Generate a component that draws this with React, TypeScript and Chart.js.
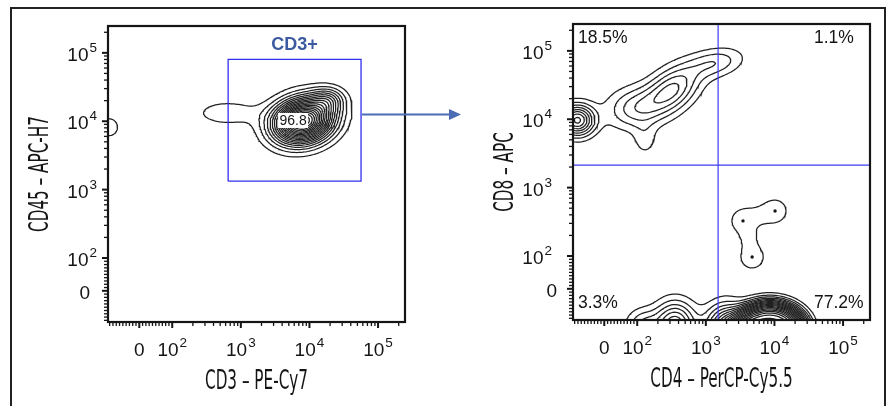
import React, { useEffect, useRef } from "react";
import { Chart, registerables } from "chart.js";

Chart.register(...registerables);

// ---------------- axis (biexponential display) ----------------
const AXIS_MIN = -95;
const AXIS_MAX = 247000;
const MAJOR_TICKS = [0, 100, 1000, 10000, 100000];
const MAJOR_EXPONENTS = ["", "2", "3", "4", "5"];
const MINOR_DECADES = [100, 1000, 10000, 100000];
const MINOR_MULTIPLIERS = [2, 3, 4, 5, 6, 7, 8, 9];
const LINEAR_MINOR = [-90, -80, -70, -60, -50, -40, -30, -20, -10, 10, 20, 30, 40, 50, 60, 70, 80, 90];

// contour levels, as fractions of the peak density
const CONTOUR_LEVELS = [0.05, 0.1, 0.15, 0.2, 0.25, 0.3, 0.35, 0.4, 0.45, 0.5, 0.55, 0.6, 0.65, 0.7, 0.75, 0.8, 0.85, 0.9, 0.95];

// ---------------- left panel: CD3 vs CD45 ----------------
const LEFT_X_TITLE = "CD3 – PE-Cy7";
const LEFT_Y_TITLE = "CD45 – APC-H7";
const LEFT_POP_X = [8070, 18700, 640, -92];
const LEFT_POP_Y = [10100, 20500, 13200, 8170];
const LEFT_POP_SX = [0.285, 0.16, 0.36, 0.12];
const LEFT_POP_SY = [0.215, 0.12, 0.14, 0.12];
const LEFT_POP_RHO = [0.15, 0, 0, 0];
const LEFT_POP_W = [1, 0.2, 0.08, 0.085];
const LEFT_POP_SHAPE = [2, 2, 2, 2];
const GATE_X = [653, 56500];
const GATE_Y = [1330, 80200];
const GATE_NAME = "CD3+";
const GATE_PERCENT = "96.8";
const GATE_PERCENT_AT = [5770, 10260];

// ---------------- right panel: CD4 vs CD8 ----------------
const RIGHT_X_TITLE = "CD4 – PerCP-Cy5.5";
const RIGHT_Y_TITLE = "CD8 – APC";
const RIGHT_POP_X = [8630, 2000, 356, 122, -82, 94, 322, 1360, 130, 3480, 10200, 4730, 4270, 5900];
const RIGHT_POP_Y = [-129, -115, -110, -110, 9660, 14600, 27000, 66500, 4980, 326, 456, 97, 184, 390];
const RIGHT_POP_SX = [0.45, 0.2, 0.2, 0.17, 0.17, 0.29, 0.27, 0.28, 0.12, 0.17, 0.17, 0.15, 0.1, 0.18];
const RIGHT_POP_SY = [0.36, 0.22, 0.23, 0.16, 0.155, 0.21, 0.24, 0.15, 0.17, 0.17, 0.17, 0.15, 0.1, 0.1];
const RIGHT_POP_RHO = [0, 0, 0, 0, 0, 0.1, 0.4, 0.3, 0, 0, 0, 0, 0, 0.3];
const RIGHT_POP_W = [1, 0.4, 0.35, 0.15, 0.42, 0.17, 0.26, 0.14, 0.07, 0.075, 0.075, 0.09, 0.04, 0.03];
const RIGHT_POP_SHAPE = [4, 2, 2, 2, 2, 2, 2, 2, 2, 2, 2, 2, 2, 2];
const QUAD_X = 1510;
const QUAD_Y = 2130;
const QUAD_PERCENTS = ["18.5%", "1.1%", "3.3%", "77.2%"];
const OUTLIER_X = [3480, 10200, 4730];
const OUTLIER_Y = [326, 456, 97];

// ---------------- styles / layout ----------------
const W = 889;
const H = 406;
const INK = "#151515";
const CONTOUR_COLOR = "#202020";
const GATE_COLOR = "#3030ee";
const QUAD_COLOR = "#3c3cf6";
const LABEL_BLUE = "#3b5aa0";
const ARROW_BLUE = "#4a6db3";
const TICK_FONT = "'Liberation Sans', Arial, Helvetica, sans-serif";
const TITLE_FONT = "'Liberation Sans Narrow', 'DejaVu Sans Condensed', 'Liberation Sans', sans-serif";

const LEFT_LAYOUT = { area: [108, 26, 405, 322], yPowGap: 11, yZeroGap: 18 };
const RIGHT_LAYOUT = { area: [573, 24, 870, 320], yPowGap: 21, yZeroGap: 16 };

const LIN_SLOPE = 0.0048;
function tr(v: number): number {
  return v >= 100 ? Math.log10(v) : 2 + (v - 100) * LIN_SLOPE;
}

type Pt = { x: number; y: number };

function buildContours(
  px: number[], py: number[], sx: number[], sy: number[], rho: number[], w: number[], shape: number[], levels: number[]
): Pt[][] {
  const N = 260;
  const LO = 0.2;
  const HI = 6.0;
  const step = (HI - LO) / N;
  const M = N + 1;
  const cx = px.map(tr);
  const cy = py.map(tr);
  const f = new Float64Array(M * M);
  let max = 0;
  for (let j = 0; j < M; j++) {
    const y = LO + j * step;
    for (let i = 0; i < M; i++) {
      const x = LO + i * step;
      let s = 0;
      for (let k = 0; k < cx.length; k++) {
        const dx = (x - cx[k]) / sx[k];
        const dy = (y - cy[k]) / sy[k];
        const r = rho[k];
        let q = (dx * dx - 2 * r * dx * dy + dy * dy) / (1 - r * r);
        if (shape[k] !== 2) q = Math.pow(q, shape[k] / 2);
        if (q < 50) s += w[k] * Math.exp(-0.5 * q);
      }
      f[j * M + i] = s;
      if (s > max) max = s;
    }
  }
  const out: Pt[][] = [];
  for (const frac of levels) {
    const L = frac * max;
    const segA: number[] = [];
    const segB: number[] = [];
    const add = (a: number, b: number) => { segA.push(a); segB.push(b); };
    for (let j = 0; j < N; j++) {
      for (let i = 0; i < N; i++) {
        const v0 = f[j * M + i];
        const v1 = f[j * M + i + 1];
        const v2 = f[(j + 1) * M + i + 1];
        const v3 = f[(j + 1) * M + i];
        const c = (v0 > L ? 1 : 0) | (v1 > L ? 2 : 0) | (v2 > L ? 4 : 0) | (v3 > L ? 8 : 0);
        if (c === 0 || c === 15) continue;
        const e0 = (j * M + i) * 2;
        const e1 = (j * M + i + 1) * 2 + 1;
        const e2 = ((j + 1) * M + i) * 2;
        const e3 = (j * M + i) * 2 + 1;
        const center = (v0 + v1 + v2 + v3) / 4;
        switch (c) {
          case 1: case 14: add(e3, e0); break;
          case 2: case 13: add(e0, e1); break;
          case 3: case 12: add(e3, e1); break;
          case 4: case 11: add(e1, e2); break;
          case 6: case 9: add(e0, e2); break;
          case 7: case 8: add(e3, e2); break;
          case 5:
            if (center > L) { add(e0, e1); add(e2, e3); } else { add(e3, e0); add(e1, e2); }
            break;
          case 10:
            if (center > L) { add(e3, e0); add(e1, e2); } else { add(e0, e1); add(e2, e3); }
            break;
        }
      }
    }
    const edgePt = (key: number): Pt => {
      const base = key >> 1;
      const dir = key & 1;
      const i = base % M;
      const j = Math.floor(base / M);
      const a = f[j * M + i];
      if (dir === 0) {
        const b = f[j * M + i + 1];
        const t = (L - a) / (b - a);
        return { x: LO + (i + t) * step, y: LO + j * step };
      }
      const b = f[(j + 1) * M + i];
      const t = (L - a) / (b - a);
      return { x: LO + i * step, y: LO + (j + t) * step };
    };
    const map = new Map<number, number[]>();
    for (let s = 0; s < segA.length; s++) {
      for (const k of [segA[s], segB[s]]) {
        const l = map.get(k);
        if (l) l.push(s); else map.set(k, [s]);
      }
    }
    const used = new Uint8Array(segA.length);
    for (let s = 0; s < segA.length; s++) {
      if (used[s]) continue;
      used[s] = 1;
      const chain = [segA[s], segB[s]];
      let cur = segB[s];
      for (;;) {
        const l = map.get(cur) || [];
        let nx = -1;
        for (const t of l) if (!used[t]) { nx = t; break; }
        if (nx < 0) break;
        used[nx] = 1;
        const other = segA[nx] === cur ? segB[nx] : segA[nx];
        chain.push(other);
        cur = other;
      }
      cur = segA[s];
      const head: number[] = [];
      for (;;) {
        const l = map.get(cur) || [];
        let nx = -1;
        for (const t of l) if (!used[t]) { nx = t; break; }
        if (nx < 0) break;
        used[nx] = 1;
        const other = segA[nx] === cur ? segB[nx] : segA[nx];
        head.push(other);
        cur = other;
      }
      const keys = head.reverse().concat(chain);
      if (keys.length >= 2) out.push(keys.map(edgePt));
    }
  }
  return out;
}

function minorTickValues(): number[] {
  const v: number[] = [...LINEAR_MINOR];
  for (const d of MINOR_DECADES) for (const m of MINOR_MULTIPLIERS) if (m * d <= AXIS_MAX) v.push(m * d);
  return v;
}

const BASE_PX = 19;
const EXP_PX = 13.5;

function drawPow(ctx: CanvasRenderingContext2D, exp: string, left: number, base: number) {
  ctx.textAlign = "left";
  ctx.font = `${BASE_PX}px ${TICK_FONT}`;
  const w1 = ctx.measureText("10").width;
  ctx.fillText("10", left, base);
  ctx.font = `${EXP_PX}px ${TICK_FONT}`;
  ctx.fillText(exp, left + w1 + 1, base - 9);
}

function powWidth(ctx: CanvasRenderingContext2D, exp: string): number {
  ctx.font = `${BASE_PX}px ${TICK_FONT}`;
  const w1 = ctx.measureText("10").width;
  ctx.font = `${EXP_PX}px ${TICK_FONT}`;
  return w1 + 1 + ctx.measureText(exp).width;
}

function drawAxes(chart: any, layout: any, xTitle: string, yTitle: string) {
  const ctx: CanvasRenderingContext2D = chart.ctx;
  const a = chart.chartArea;
  const xs = chart.scales.x;
  const ys = chart.scales.y;
  ctx.save();
  ctx.strokeStyle = INK;
  ctx.fillStyle = INK;
  const minors = minorTickValues();
  const tickX = (v: number, len: number, lw: number) => {
    const p = xs.getPixelForValue(tr(v));
    if (p < a.left - 0.5 || p > a.right + 0.5) return;
    ctx.lineWidth = lw;
    ctx.beginPath(); ctx.moveTo(p, a.bottom); ctx.lineTo(p, a.bottom + len); ctx.stroke();
  };
  const tickY = (v: number, len: number, lw: number) => {
    const p = ys.getPixelForValue(tr(v));
    if (p < a.top - 0.5 || p > a.bottom + 0.5) return;
    ctx.lineWidth = lw;
    ctx.beginPath(); ctx.moveTo(a.left, p); ctx.lineTo(a.left - len, p); ctx.stroke();
  };
  for (const v of minors) { tickX(v, 4, 1.3); tickY(v, 4, 1.3); }
  for (const v of MAJOR_TICKS) { tickX(v, 6, 2); tickY(v, 6, 2); }
  ctx.lineWidth = 2.2;
  ctx.strokeRect(a.left, a.top, a.right - a.left, a.bottom - a.top);

  // tick labels
  ctx.textBaseline = "alphabetic";
  MAJOR_TICKS.forEach((v, i) => {
    const exp = MAJOR_EXPONENTS[i];
    const px = xs.getPixelForValue(tr(v));
    const bx = a.bottom + 34;
    if (exp === "") {
      ctx.font = `${BASE_PX}px ${TICK_FONT}`;
      ctx.textAlign = "center";
      ctx.fillText("0", px, bx);
    } else {
      const tw = powWidth(ctx, exp);
      drawPow(ctx, exp, px - tw / 2, bx);
    }
    const py = ys.getPixelForValue(tr(v));
    const by = py + 8;
    if (exp === "") {
      ctx.font = `${BASE_PX}px ${TICK_FONT}`;
      ctx.textAlign = "right";
      ctx.fillText("0", a.left - layout.yZeroGap, by);
    } else {
      const tw = powWidth(ctx, exp);
      drawPow(ctx, exp, a.left - layout.yPowGap - tw, by);
    }
  });

  // axis titles (condensed)
  ctx.font = `26px ${TITLE_FONT}`;
  const squeeze = 103 / ctx.measureText(LEFT_X_TITLE).width;
  ctx.textAlign = "center";
  ctx.save();
  ctx.translate((a.left + a.right) / 2, a.bottom + 67);
  ctx.scale(squeeze, 1);
  ctx.fillText(xTitle, 0, 0);
  ctx.restore();
  ctx.save();
  ctx.translate(a.left - 69, (a.top + a.bottom) / 2);
  ctx.rotate(-Math.PI / 2);
  ctx.scale(squeeze, 1);
  ctx.fillText(yTitle, 0, 9);
  ctx.restore();
  ctx.restore();
}

function contourDatasets(lines: Pt[][]) {
  return lines.map((pts) => ({
    data: pts,
    showLine: true,
    borderColor: CONTOUR_COLOR,
    borderWidth: 1.25,
    pointRadius: 0,
    fill: false,
    tension: 0,
  }));
}

const YMIN = tr(AXIS_MIN);
const YMAX = tr(AXIS_MAX);

function baseOptions(layout: any) {
  const [l, t, r, b] = layout.area;
  return {
    responsive: false,
    animation: false as const,
    events: [] as any[],
    layout: { padding: { left: l, top: t, right: W - r, bottom: H - b } },
    plugins: { legend: { display: false }, tooltip: { enabled: false } },
    scales: {
      x: { type: "linear" as const, min: YMIN, max: YMAX, display: false },
      y: { type: "linear" as const, min: YMIN, max: YMAX, display: false },
    },
  };
}

function leftConfig(): any {
  const lines = buildContours(LEFT_POP_X, LEFT_POP_Y, LEFT_POP_SX, LEFT_POP_SY, LEFT_POP_RHO, LEFT_POP_W, LEFT_POP_SHAPE, CONTOUR_LEVELS);
  const gx0 = tr(GATE_X[0]), gx1 = tr(GATE_X[1]), gy0 = tr(GATE_Y[0]), gy1 = tr(GATE_Y[1]);
  const gate = {
    data: [{ x: gx0, y: gy0 }, { x: gx1, y: gy0 }, { x: gx1, y: gy1 }, { x: gx0, y: gy1 }, { x: gx0, y: gy0 }],
    showLine: true, borderColor: GATE_COLOR, borderWidth: 1.3, pointRadius: 0, fill: false, tension: 0,
  };
  const plugin = {
    id: "leftDecor",
    afterDraw(chart: any) {
      const ctx: CanvasRenderingContext2D = chart.ctx;
      const xs = chart.scales.x, ys = chart.scales.y;
      drawAxes(chart, LEFT_LAYOUT, LEFT_X_TITLE, LEFT_Y_TITLE);
      ctx.save();
      // outer frame
      ctx.strokeStyle = "#222";
      ctx.lineWidth = 2;
      ctx.strokeRect(11, 8, 874, 430);
      // gate name
      const gl = xs.getPixelForValue(gx0), gr = xs.getPixelForValue(gx1), gt = ys.getPixelForValue(gy1);
      ctx.fillStyle = LABEL_BLUE;
      ctx.font = `bold 18px ${TICK_FONT}`;
      ctx.textAlign = "center";
      ctx.textBaseline = "alphabetic";
      ctx.fillText(GATE_NAME, (gl + gr) / 2, gt - 9);
      // percent box
      const lx = xs.getPixelForValue(tr(GATE_PERCENT_AT[0]));
      const ly = ys.getPixelForValue(tr(GATE_PERCENT_AT[1]));
      ctx.fillStyle = "#ffffff";
      ctx.fillRect(lx - 15, ly - 7.5, 30, 15);
      ctx.fillStyle = INK;
      ctx.font = `14px ${TICK_FONT}`;
      ctx.fillText(GATE_PERCENT, lx, ly + 5);
      // arrow
      const ay = 114.5;
      ctx.strokeStyle = ARROW_BLUE;
      ctx.fillStyle = ARROW_BLUE;
      ctx.lineWidth = 2;
      ctx.beginPath(); ctx.moveTo(gr + 1, ay); ctx.lineTo(452, ay); ctx.stroke();
      ctx.beginPath(); ctx.moveTo(461, ay); ctx.lineTo(449, ay - 5.5); ctx.lineTo(449, ay + 5.5); ctx.closePath(); ctx.fill();
      ctx.restore();
    },
  };
  return {
    type: "scatter",
    data: { datasets: [gate, ...contourDatasets(lines)] },
    options: baseOptions(LEFT_LAYOUT),
    plugins: [plugin],
  };
}

function rightConfig(): any {
  const lines = buildContours(RIGHT_POP_X, RIGHT_POP_Y, RIGHT_POP_SX, RIGHT_POP_SY, RIGHT_POP_RHO, RIGHT_POP_W, RIGHT_POP_SHAPE, CONTOUR_LEVELS);
  const qx = tr(QUAD_X), qy = tr(QUAD_Y);
  const vLine = {
    data: [{ x: qx, y: YMIN }, { x: qx, y: YMAX }],
    showLine: true, borderColor: QUAD_COLOR, borderWidth: 1.2, pointRadius: 0, fill: false,
  };
  const hLine = {
    data: [{ x: YMIN, y: qy }, { x: YMAX, y: qy }],
    showLine: true, borderColor: QUAD_COLOR, borderWidth: 1.2, pointRadius: 0, fill: false,
  };
  const dots = {
    data: OUTLIER_X.map((x, i) => ({ x: tr(x), y: tr(OUTLIER_Y[i]) })),
    showLine: false, pointRadius: 1.7, pointBorderWidth: 0, backgroundColor: INK, borderColor: INK,
  };
  const plugin = {
    id: "rightDecor",
    afterDraw(chart: any) {
      const ctx: CanvasRenderingContext2D = chart.ctx;
      const a = chart.chartArea;
      drawAxes(chart, RIGHT_LAYOUT, RIGHT_X_TITLE, RIGHT_Y_TITLE);
      ctx.save();
      ctx.fillStyle = INK;
      ctx.font = `17.5px ${TICK_FONT}`;
      ctx.textAlign = "left";
      ctx.textBaseline = "alphabetic";
      ctx.fillText(QUAD_PERCENTS[0], a.left + 5, a.top + 18.5);
      ctx.fillText(QUAD_PERCENTS[1], a.left + 241, a.top + 18.5);
      ctx.fillText(QUAD_PERCENTS[2], a.left + 5, a.bottom - 12);
      ctx.fillText(QUAD_PERCENTS[3], a.left + 241, a.bottom - 12);
      ctx.restore();
    },
  };
  return {
    type: "scatter",
    data: { datasets: [dots, vLine, hLine, ...contourDatasets(lines)] },
    options: baseOptions(RIGHT_LAYOUT),
    plugins: [plugin],
  };
}

function Panel({ build }: { build: () => any }) {
  const ref = useRef<HTMLCanvasElement>(null);
  useEffect(() => {
    if (!ref.current) return;
    const chart = new Chart(ref.current, build());
    return () => chart.destroy();
  }, []);
  return (
    <canvas
      ref={ref}
      width={W}
      height={H}
      style={{ position: "absolute", left: 0, top: 0, width: W, height: H }}
    />
  );
}

export default function App() {
  return (
    <div style={{ position: "fixed", left: 0, top: 0, width: W, height: H, background: "#ffffff", overflow: "hidden" }}>
      <Panel build={leftConfig} />
      <Panel build={rightConfig} />
    </div>
  );
}
